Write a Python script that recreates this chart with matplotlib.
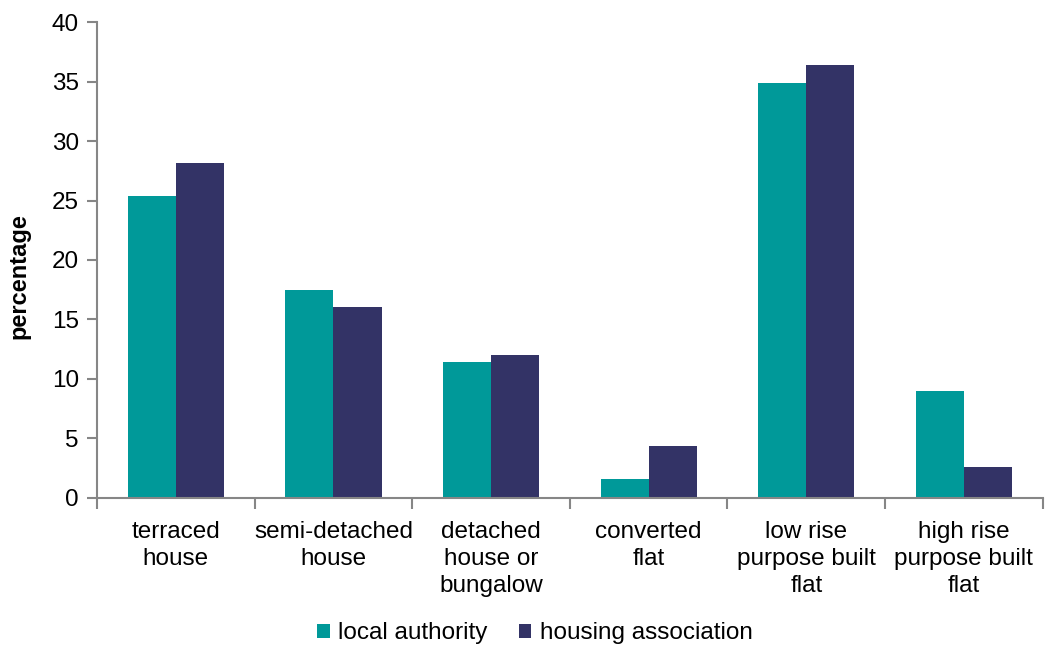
import matplotlib
matplotlib.use("Agg")
import matplotlib.pyplot as plt
import numpy as np

categories = ["terraced\nhouse", "semi-detached\nhouse", "detached\nhouse or\nbungalow",
              "converted\nflat", "low rise\npurpose built\nflat", "high rise\npurpose built\nflat"]
local_authority = [25.4, 17.5, 11.4, 1.6, 34.9, 9.0]
housing_association = [28.2, 16.0, 12.0, 4.3, 36.4, 2.6]
y_ticks = [0, 5, 10, 15, 20, 25, 30, 35, 40]

plt.rcParams["font.family"] = ["Liberation Sans", "DejaVu Sans"]

fig = plt.figure(figsize=(10.49, 6.49), dpi=100)
ax = fig.add_axes([0.0925, 0.2334, 0.9015, 0.7322])

x = np.arange(len(categories))
width = 0.305
ax.bar(x - width / 2, local_authority, width, label="local authority", color="#009999")
ax.bar(x + width / 2, housing_association, width, label="housing association", color="#333366")

ax.set_xlim(-0.5, len(categories) - 0.5)
ax.set_ylim(0, 40)
ax.set_yticks(y_ticks)
ax.set_xticks(x)
ax.set_xticklabels(categories, fontsize=17.5, linespacing=1.3, va="top")
ax.set_xticks(np.arange(len(categories) + 1) - 0.5, minor=True)
ax.tick_params(axis="x", which="major", length=0, pad=17)
ax.tick_params(axis="x", which="minor", length=8, width=1.5, color="#868686")
ax.tick_params(axis="y", length=7, width=1.5, color="#868686", labelsize=17.5, pad=6)

for side in ["top", "right"]:
    ax.spines[side].set_visible(False)
for side in ["left", "bottom"]:
    ax.spines[side].set_color("#868686")
    ax.spines[side].set_linewidth(1.5)

ax.set_ylabel("percentage", fontsize=17, fontweight="bold")
ax.yaxis.set_label_coords(-0.07, 0.465)

fig.legend(loc="center", bbox_to_anchor=(0.51, 0.024), ncol=2, frameon=False,
           fontsize=17.5, handlelength=0.5, handleheight=0.5, handletextpad=0.35,
           columnspacing=1.3, borderpad=0)

fig.savefig("out.png", dpi=100)
